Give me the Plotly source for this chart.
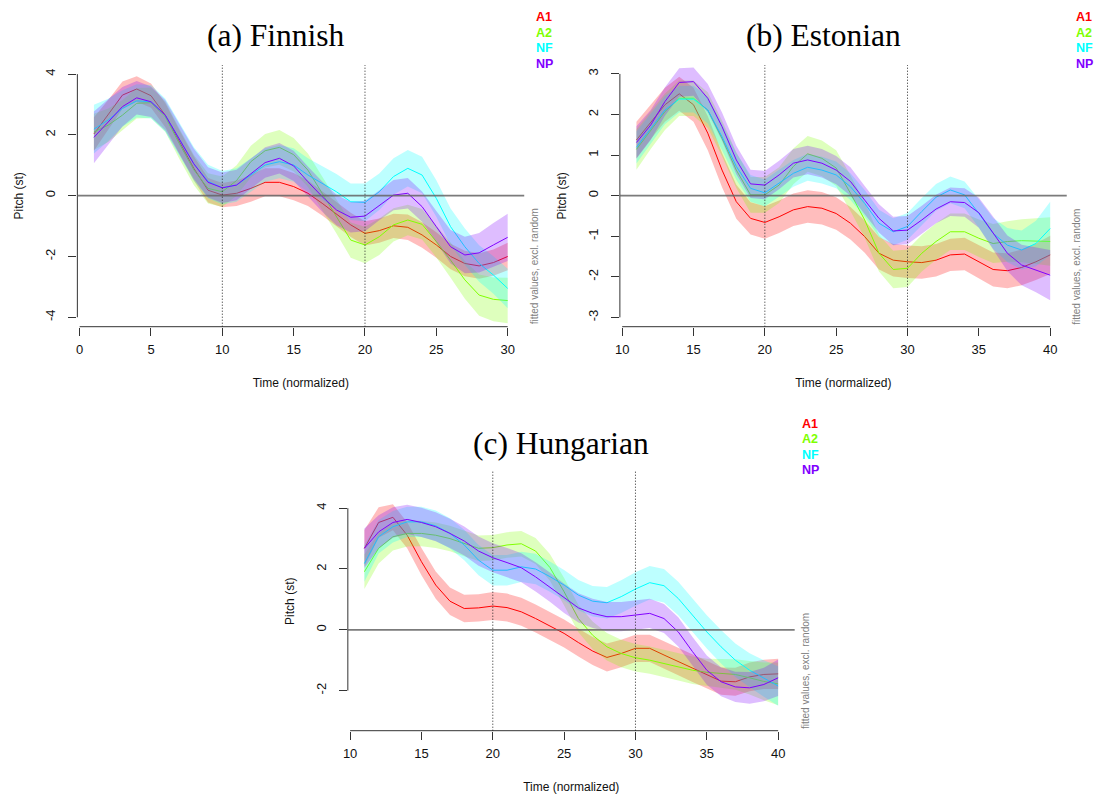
import plotly.graph_objects as go

W, H = 1097, 794

series_names = ["A1", "A2", "NF", "NP"]
series_colors = ["#FF0000", "#80FF00", "#00FFFF", "#8000FF"]
ribbon_colors = ["rgba(255,0,0,0.26)", "rgba(128,255,0,0.26)", "rgba(0,255,255,0.26)", "rgba(128,0,255,0.26)"]

# ---------------- (a) Finnish ----------------
fin_time = list(range(1, 31))
fin_A1 = [2.03, 2.65, 3.31, 3.51, 3.29, 2.65, 1.75, 0.9, 0.18, 0.02, 0.08, 0.24, 0.44, 0.44, 0.3,
          0.08, -0.25, -0.6, -0.96, -1.24, -1.15, -0.99, -1.04, -1.29, -1.62, -2.0, -2.23, -2.31, -2.2, -2.0]
fin_A2 = [2.1, 2.32, 2.65, 3.04, 3.06, 2.6, 1.7, 0.85, 0.24, 0.13, 0.5, 1.12, 1.48, 1.59, 1.35,
          0.84, 0.08, -0.69, -1.46, -1.62, -1.35, -0.96, -0.8, -0.94, -1.51, -2.12, -2.77, -3.27, -3.41, -3.45]
fin_NF = [2.19, 2.49, 2.87, 3.12, 3.09, 2.65, 1.85, 1.05, 0.47, 0.26, 0.35, 0.68, 1.01, 1.12, 1.01,
          0.68, 0.41, 0.13, -0.2, -0.22, 0.13, 0.63, 0.9, 0.68, -0.09, -1.02, -1.68, -2.23, -2.61, -3.05]
fin_NP = [1.92, 2.43, 2.93, 3.22, 3.09, 2.65, 1.85, 1.05, 0.44, 0.26, 0.35, 0.73, 1.09, 1.23, 0.98,
          0.46, -0.03, -0.47, -0.71, -0.67, -0.31, 0.02, 0.08, -0.36, -1.02, -1.68, -1.95, -1.88, -1.62, -1.37]
fin_A1_se = [0.55, 0.5, 0.45, 0.42, 0.4, 0.4, 0.4, 0.4, 0.4, 0.4, 0.42, 0.44, 0.46, 0.46, 0.45,
             0.42, 0.4, 0.4, 0.4, 0.4, 0.4, 0.4, 0.42, 0.42, 0.42, 0.42, 0.42, 0.42, 0.43, 0.45]
fin_A2_se = [0.6, 0.55, 0.5, 0.5, 0.5, 0.5, 0.5, 0.5, 0.5, 0.5, 0.5, 0.52, 0.55, 0.57, 0.55,
             0.55, 0.55, 0.55, 0.58, 0.6, 0.6, 0.55, 0.5, 0.5, 0.52, 0.58, 0.62, 0.68, 0.72, 0.75]
fin_NF_se = [0.8, 0.7, 0.6, 0.55, 0.55, 0.55, 0.55, 0.55, 0.55, 0.55, 0.55, 0.55, 0.55, 0.55, 0.55,
             0.55, 0.55, 0.58, 0.6, 0.62, 0.6, 0.6, 0.6, 0.6, 0.6, 0.6, 0.6, 0.6, 0.62, 0.65]
fin_NP_se = [0.85, 0.75, 0.65, 0.55, 0.5, 0.5, 0.5, 0.5, 0.5, 0.5, 0.5, 0.5, 0.5, 0.5, 0.5,
             0.5, 0.5, 0.5, 0.5, 0.5, 0.5, 0.5, 0.5, 0.5, 0.52, 0.55, 0.6, 0.65, 0.72, 0.78]

# ---------------- (b) Estonian ----------------
est_time = list(range(11, 41))
est_A1 = [1.37, 1.82, 2.24, 2.51, 2.24, 1.54, 0.63, -0.15, -0.56, -0.66, -0.52, -0.35, -0.27, -0.31, -0.44,
          -0.68, -1.01, -1.42, -1.59, -1.63, -1.65, -1.59, -1.46, -1.44, -1.63, -1.82, -1.85, -1.77, -1.63, -1.46]
est_A2 = [1.14, 1.62, 2.07, 2.40, 2.40, 2.11, 1.41, 0.63, 0.02, 0.02, 0.26, 0.72, 1.03, 0.92, 0.68,
          0.06, -0.60, -1.42, -1.82, -1.79, -1.42, -1.13, -0.89, -0.89, -1.05, -1.18, -1.13, -1.11, -1.12, -1.13]
est_NF = [1.19, 1.66, 2.11, 2.38, 2.38, 2.11, 1.45, 0.72, 0.18, 0.07, 0.30, 0.55, 0.70, 0.63, 0.51,
          0.22, -0.19, -0.68, -0.89, -0.76, -0.39, -0.04, 0.14, 0.02, -0.44, -0.93, -1.22, -1.34, -1.18, -0.81]
est_NP = [1.31, 1.74, 2.32, 2.79, 2.81, 2.40, 1.70, 0.88, 0.29, 0.26, 0.51, 0.80, 0.88, 0.80, 0.63,
          0.35, -0.11, -0.56, -0.87, -0.85, -0.60, -0.33, -0.15, -0.17, -0.42, -0.93, -1.42, -1.71, -1.83, -1.96]
est_A1_se = [0.45, 0.43, 0.42, 0.42, 0.42, 0.42, 0.42, 0.42, 0.4, 0.4, 0.4, 0.4, 0.4, 0.4, 0.4,
             0.4, 0.4, 0.4, 0.4, 0.4, 0.4, 0.4, 0.4, 0.4, 0.42, 0.42, 0.43, 0.44, 0.45, 0.47]
est_A2_se = [0.5, 0.47, 0.45, 0.44, 0.44, 0.44, 0.44, 0.44, 0.44, 0.44, 0.44, 0.44, 0.44, 0.44, 0.44,
             0.44, 0.44, 0.45, 0.46, 0.46, 0.45, 0.45, 0.45, 0.45, 0.46, 0.48, 0.5, 0.53, 0.56, 0.6]
est_NF_se = [0.4, 0.37, 0.35, 0.33, 0.33, 0.33, 0.33, 0.33, 0.33, 0.33, 0.33, 0.33, 0.33, 0.33, 0.33,
             0.33, 0.33, 0.33, 0.33, 0.33, 0.33, 0.33, 0.33, 0.33, 0.35, 0.38, 0.42, 0.48, 0.56, 0.66]
est_NP_se = [0.4, 0.37, 0.35, 0.35, 0.35, 0.35, 0.35, 0.35, 0.35, 0.35, 0.35, 0.35, 0.35, 0.35, 0.35,
             0.35, 0.35, 0.35, 0.35, 0.35, 0.35, 0.35, 0.35, 0.35, 0.37, 0.4, 0.44, 0.5, 0.55, 0.62]

# ---------------- (c) Hungarian ----------------
hun_time = list(range(11, 41))
hun_A1 = [2.68, 3.53, 3.70, 3.11, 2.24, 1.47, 0.94, 0.70, 0.72, 0.78, 0.73, 0.59, 0.37, 0.12, -0.12,
          -0.42, -0.70, -0.91, -0.78, -0.61, -0.61, -0.83, -1.05, -1.27, -1.49, -1.69, -1.71, -1.55, -1.47, -1.45]
hun_A2 = [1.91, 2.68, 3.06, 3.17, 3.17, 3.11, 3.0, 2.84, 2.68, 2.70, 2.79, 2.83, 2.59, 2.05, 1.25,
          0.37, -0.18, -0.56, -0.78, -0.92, -1.0, -1.11, -1.22, -1.33, -1.40, -1.44, -1.47, -1.58, -1.7, -1.78]
hun_NF = [2.18, 3.06, 3.39, 3.55, 3.55, 3.42, 3.17, 2.79, 2.29, 1.96, 1.96, 2.07, 2.0, 1.75, 1.47,
          1.14, 0.94, 0.89, 1.09, 1.34, 1.55, 1.45, 1.03, 0.48, -0.07, -0.56, -1.0, -1.33, -1.6, -1.85]
hun_NP = [2.68, 3.22, 3.53, 3.63, 3.53, 3.39, 3.17, 2.92, 2.59, 2.37, 2.21, 2.04, 1.74, 1.40, 1.03,
          0.72, 0.54, 0.43, 0.43, 0.48, 0.54, 0.37, -0.07, -0.72, -1.33, -1.71, -1.88, -1.91, -1.8, -1.58]
hun_A1_se = [0.6, 0.5, 0.43, 0.43, 0.45, 0.45, 0.45, 0.45, 0.45, 0.46, 0.46, 0.46, 0.46, 0.46, 0.46,
             0.46, 0.46, 0.46, 0.45, 0.45, 0.45, 0.45, 0.45, 0.45, 0.45, 0.45, 0.46, 0.47, 0.48, 0.5]
hun_A2_se = [0.57, 0.5, 0.45, 0.43, 0.42, 0.42, 0.42, 0.42, 0.42, 0.42, 0.42, 0.42, 0.43, 0.44, 0.45,
             0.45, 0.45, 0.45, 0.45, 0.45, 0.45, 0.45, 0.45, 0.45, 0.45, 0.47, 0.5, 0.55, 0.62, 0.7]
hun_NF_se = [0.6, 0.55, 0.52, 0.5, 0.5, 0.5, 0.5, 0.5, 0.5, 0.5, 0.5, 0.5, 0.5, 0.5, 0.5,
             0.5, 0.5, 0.52, 0.54, 0.55, 0.55, 0.55, 0.55, 0.55, 0.55, 0.55, 0.55, 0.56, 0.6, 0.65]
hun_NP_se = [0.65, 0.55, 0.5, 0.48, 0.48, 0.48, 0.48, 0.48, 0.48, 0.48, 0.48, 0.48, 0.48, 0.48, 0.48,
             0.48, 0.48, 0.48, 0.48, 0.48, 0.48, 0.48, 0.48, 0.48, 0.48, 0.48, 0.5, 0.52, 0.55, 0.6]

panels = [
    dict(title="(a) Finnish", time=fin_time, means=[fin_A1, fin_A2, fin_NF, fin_NP],
         ses=[fin_A1_se, fin_A2_se, fin_NF_se, fin_NP_se],
         xticks=[0, 5, 10, 15, 20, 25, 30], yticks=[-4, -2, 0, 2, 4], vlines=[10, 20],
         xrange=[-0.16, 31.16], yrange=[-4.31, 4.30],
         box=(72.7, 521.6, 65.0, 326.7), title_xy=(272, 36), legend_xy=(531, 17), note_x=532),
    dict(title="(b) Estonian", time=est_time, means=[est_A1, est_A2, est_NF, est_NP],
         ses=[est_A1_se, est_A2_se, est_NF_se, est_NP_se],
         xticks=[10, 15, 20, 25, 30, 35, 40], yticks=[-3, -2, -1, 0, 1, 2, 3], vlines=[20, 30],
         xrange=[9.84, 41.16], yrange=[-3.23, 3.22],
         box=(617.7, 1066.6, 65.0, 326.7), title_xy=(822, 36), legend_xy=(1074, 17), note_x=1077),
    dict(title="(c) Hungarian", time=hun_time, means=[hun_A1, hun_A2, hun_NF, hun_NP],
         ses=[hun_A1_se, hun_A2_se, hun_NF_se, hun_NP_se],
         xticks=[10, 15, 20, 25, 30, 35, 40], yticks=[-2, 0, 2, 4], vlines=[20, 30],
         xrange=[9.84, 41.16], yrange=[-3.32, 5.20],
         box=(344.4, 793.3, 471.7, 730.7), title_xy=(559, 443), legend_xy=(799, 424), note_x=804),
]

fig = go.Figure()
shapes = []
annotations = []
layout = {}

def px(x):
    return x / W

def py(y):
    return 1 - y / H

font_sans = "Liberation Sans, Arial"

for i, p in enumerate(panels):
    n = "" if i == 0 else str(i + 1)
    xa, ya = "x" + n, "y" + n
    t = p["time"]
    for s in range(4):
        m = p["means"][s]
        se = p["ses"][s]
        upper = [a + b for a, b in zip(m, se)]
        lower = [a - b for a, b in zip(m, se)]
        fig.add_trace(go.Scatter(
            x=t + t[::-1], y=upper + lower[::-1], fill="toself",
            fillcolor=ribbon_colors[s], line=dict(width=0), mode="lines",
            hoverinfo="skip", showlegend=False, xaxis=xa, yaxis=ya))
        fig.add_trace(go.Scatter(
            x=t, y=m, mode="lines", line=dict(color=series_colors[s], width=1),
            name=series_names[s], showlegend=False, xaxis=xa, yaxis=ya))

    x0, x1, y0, y1 = p["box"]
    layout["xaxis" + n] = dict(
        domain=[px(x0), px(x1)], range=p["xrange"], anchor=ya,
        showgrid=False, zeroline=False, showline=False,
        tickvals=p["xticks"], ticktext=[str(v) for v in p["xticks"]],
        ticks="outside", ticklen=8, tickwidth=1, tickcolor="#333333",
        ticklabelstandoff=3,
        tickfont=dict(family=font_sans, size=13, color="#111111"),
        title=dict(text="Time (normalized)", standoff=22,
                   font=dict(family=font_sans, size=12, color="#111111")),
    )
    layout["yaxis" + n] = dict(
        domain=[py(y1), py(y0)], range=p["yrange"], anchor=xa,
        showgrid=False, zeroline=False, showline=False,
        tickvals=p["yticks"], ticktext=[str(v) for v in p["yticks"]],
        ticks="outside", ticklen=8, tickwidth=1, tickcolor="#333333", tickangle=-90,
        ticklabelstandoff=8,
        tickfont=dict(family=font_sans, size=13, color="#111111"),
        title=dict(text="Pitch (st)", standoff=16,
                   font=dict(family=font_sans, size=12, color="#111111")),
    )
    # R-style axis lines spanning first to last tick
    shapes.append(dict(type="line", xref=xa, yref=ya + " domain",
                       x0=p["xticks"][0], x1=p["xticks"][-1], y0=0, y1=0,
                       line=dict(color="#333333", width=1), layer="above"))
    shapes.append(dict(type="line", xref=xa + " domain", yref=ya,
                       x0=0, x1=0, y0=p["yticks"][0], y1=p["yticks"][-1],
                       line=dict(color="#333333", width=1), layer="above"))
    # reference line at 0
    shapes.append(dict(type="line", xref=xa + " domain", yref=ya,
                       x0=0, x1=1, y0=0, y1=0,
                       line=dict(color="rgba(100,100,100,0.85)", width=1.8), layer="above"))
    # dotted verticals
    for v in p["vlines"]:
        shapes.append(dict(type="line", xref=xa, yref=ya + " domain",
                           x0=v, x1=v, y0=0, y1=1,
                           line=dict(color="#222222", width=1, dash="1px,2px"), layer="above"))
    # title
    tx, ty = p["title_xy"]
    annotations.append(dict(text=p["title"], x=px(tx), y=py(ty), xref="paper", yref="paper",
                            xanchor="center", yanchor="middle", showarrow=False,
                            font=dict(family="Liberation Serif, Times New Roman", size=31.5, color="black")))
    # legend text
    lx, ly = p["legend_xy"]
    for s in range(4):
        annotations.append(dict(text="<b>" + series_names[s] + "</b>", x=px(lx), y=py(ly + 15.5 * s),
                                xref="paper", yref="paper", xanchor="left", yanchor="middle",
                                showarrow=False,
                                font=dict(family=font_sans, size=12.5, color=series_colors[s])))
    # note
    annotations.append(dict(text="fitted values, excl. random", x=px(p["note_x"]), y=py(y1),
                            xref="paper", yref="paper", xanchor="center", yanchor="bottom",
                            textangle=-90, showarrow=False,
                            font=dict(family=font_sans, size=10, color="#808080")))

fig.update_layout(
    width=W, height=H, margin=dict(l=0, r=0, t=0, b=0),
    paper_bgcolor="white", plot_bgcolor="white",
    showlegend=False, shapes=shapes, annotations=annotations, **layout)

fig.write_html("out.html", config={"displayModeBar": False},
               post_script="document.body.style.margin='0';document.body.style.padding='0';")
